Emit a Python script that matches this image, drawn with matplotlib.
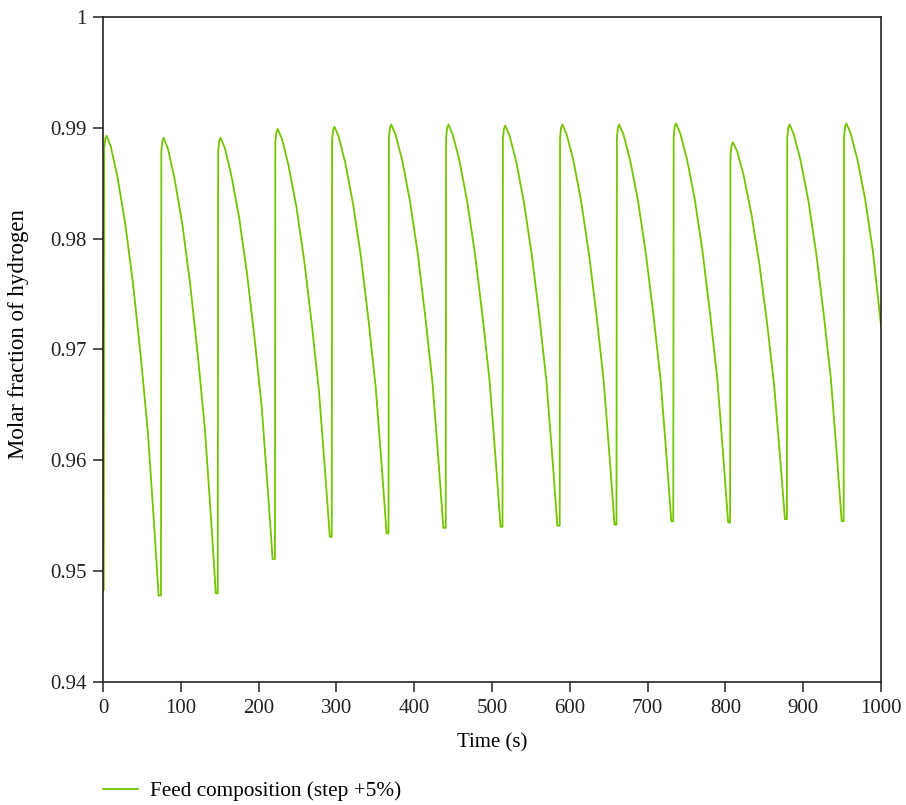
import matplotlib
matplotlib.use("Agg")
import matplotlib.pyplot as plt
from matplotlib.ticker import FuncFormatter, MultipleLocator

plt.rcParams['font.family'] = ['Liberation Serif', 'DejaVu Serif']

# Time (s) and molar fraction of hydrogen
time_s = [
    0.5,
    1, 1.5, 2.8, 4.5, 10, 18.5, 28.5, 38.5, 48.5, 57.5, 65.5, 71.5,
    74.5, 75, 76.3, 78, 83.5, 92, 102, 112, 122, 131, 139, 145,
    147.5, 148, 149.3, 151, 156.5, 165, 175, 185, 195, 204, 212, 218,
    221, 221.5, 222.8, 224.5, 230, 238.5, 248.5, 258.5, 268.5, 277.5, 285.5, 291.5,
    294, 294.5, 295.8, 297.5, 303, 311.5, 321.5, 331.5, 341.5, 350.5, 358.5, 364.5,
    367, 367.5, 368.8, 370.5, 376, 384.5, 394.5, 404.5, 414.5, 423.5, 431.5, 437.5,
    440.5, 441, 442.3, 444, 449.5, 458, 468, 478, 488, 497, 505, 511,
    513.5, 514, 515.3, 517, 522.5, 531, 541, 551, 561, 570, 578, 584,
    587, 587.5, 588.8, 590.5, 596, 604.5, 614.5, 624.5, 634.5, 643.5, 651.5, 657.5,
    660, 660.5, 661.8, 663.5, 669, 677.5, 687.5, 697.5, 707.5, 716.5, 724.5, 730.5,
    733, 733.5, 734.8, 736.5, 742, 750.5, 760.5, 770.5, 780.5, 789.5, 797.5, 803.5,
    806, 806.5, 807.8, 809.5, 815, 823.5, 833.5, 843.5, 853.5, 862.5, 870.5, 876.5,
    879, 879.5, 880.8, 882.5, 888, 896.5, 906.5, 916.5, 926.5, 935.5, 943.5, 949.5,
    952, 952.5, 953.8, 955.5, 961, 969.5, 979.5, 989.5, 1000,
]
h2_fraction = [
    0.9483,
    0.9483, 0.9881, 0.9890, 0.9893, 0.9883, 0.9856, 0.9814, 0.9760, 0.9694, 0.9627, 0.9544, 0.9478,
    0.9478, 0.9879, 0.9888, 0.9891, 0.9881, 0.9854, 0.9813, 0.9759, 0.9694, 0.9628, 0.9546, 0.9480,
    0.9480, 0.9879, 0.9888, 0.9891, 0.9882, 0.9857, 0.9819, 0.9769, 0.9709, 0.9648, 0.9572, 0.9511,
    0.9511, 0.9887, 0.9896, 0.9899, 0.9890, 0.9866, 0.9829, 0.9781, 0.9722, 0.9663, 0.9590, 0.9531,
    0.9531, 0.9889, 0.9898, 0.9901, 0.9892, 0.9868, 0.9831, 0.9784, 0.9725, 0.9666, 0.9593, 0.9534,
    0.9534, 0.9891, 0.9900, 0.9903, 0.9894, 0.9871, 0.9834, 0.9787, 0.9728, 0.9670, 0.9597, 0.9539,
    0.9539, 0.9891, 0.9900, 0.9903, 0.9894, 0.9871, 0.9834, 0.9787, 0.9729, 0.9671, 0.9598, 0.9540,
    0.9540, 0.9890, 0.9899, 0.9902, 0.9893, 0.9870, 0.9833, 0.9786, 0.9729, 0.9671, 0.9599, 0.9541,
    0.9541, 0.9891, 0.9900, 0.9903, 0.9894, 0.9871, 0.9834, 0.9787, 0.9730, 0.9672, 0.9600, 0.9542,
    0.9542, 0.9891, 0.9900, 0.9903, 0.9894, 0.9871, 0.9835, 0.9788, 0.9731, 0.9674, 0.9602, 0.9545,
    0.9545, 0.9892, 0.9901, 0.9904, 0.9895, 0.9872, 0.9836, 0.9789, 0.9731, 0.9674, 0.9602, 0.9544,
    0.9544, 0.9875, 0.9884, 0.9887, 0.9879, 0.9857, 0.9822, 0.9778, 0.9724, 0.9669, 0.9601, 0.9547,
    0.9547, 0.9891, 0.9900, 0.9903, 0.9894, 0.9871, 0.9835, 0.9788, 0.9731, 0.9674, 0.9602, 0.9545,
    0.9545, 0.9892, 0.9901, 0.9904, 0.9895, 0.9872, 0.9836, 0.9789, 0.9722,
]
series_label = "Feed composition (step +5%)"

fig = plt.figure(figsize=(9.06, 8.05), dpi=100)
ax = fig.add_axes([103 / 906, 1 - 682 / 805, 778 / 906, 665 / 805])

ax.plot(time_s, h2_fraction, color='#74c400', linewidth=1.3, label=series_label)

ax.set_xlim(0, 1000)
ax.set_ylim(0.94, 1.0)
ax.xaxis.set_major_locator(MultipleLocator(100))
ax.yaxis.set_major_locator(MultipleLocator(0.01))
ax.yaxis.set_major_formatter(FuncFormatter(lambda v, p: f"{v:.2f}".rstrip('0').rstrip('.')))

for side in ax.spines.values():
    side.set_linewidth(1.2)
    side.set_color('#222222')
ax.tick_params(direction='out', length=7, width=1.1, labelsize=15, colors='#222222', pad=5)

ax.set_xlabel("Time (s)", fontsize=15)
ax.set_ylabel("Molar fraction of hydrogen", fontsize=16.5)
ax.xaxis.set_label_coords(0.5, -(733 - 682) / 665)
ax.yaxis.set_label_coords(-(103 - 29) / 778, (682 - 334) / 665)

ax.legend(loc='center left', bbox_to_anchor=(103 / 906, 14 / 805), bbox_transform=fig.transFigure,
          frameon=False, fontsize=15.3, handlelength=1.65, handletextpad=0.55,
          borderpad=0, borderaxespad=0)

fig.savefig("out.png", dpi=100)
